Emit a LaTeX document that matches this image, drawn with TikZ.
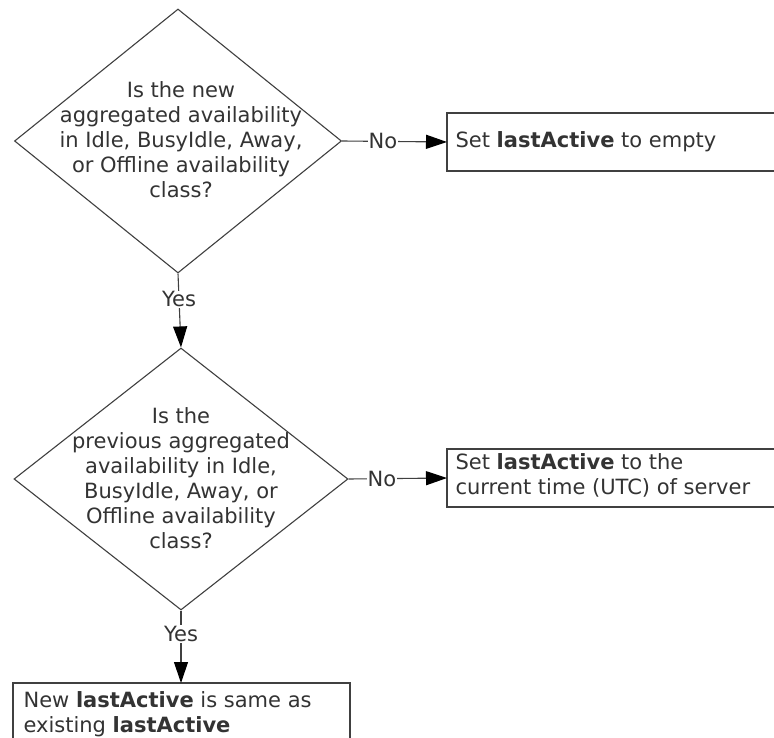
\documentclass[tikz,border=0pt]{standalone}
\usepackage{fontspec}
\setmainfont{DejaVu Sans}
\usetikzlibrary{shapes.geometric,arrows.meta}
\begin{document}
\begin{tikzpicture}[x=1pt,y=-1pt,
  line width=1.1pt,
  every node/.style={text=black!80},
  dia/.style={draw=black!75,shape=diamond,inner sep=0pt,minimum width=#1,minimum height=264pt},
  dtext/.style={align=center,font=\fontsize{21}{25}\selectfont},
  proc/.style={draw=black!75,inner sep=0pt},
  ptext/.style={anchor=north west,align=left,font=\fontsize{21}{24.5}\selectfont,inner sep=0pt},
  lbl/.style={fill=white,inner sep=1pt,font=\fontsize{21}{22}\selectfont},
  conn/.style={draw=black!75,-{Triangle[length=21pt,width=14pt,color=black]}}]
\clip (0,0) rectangle (774,738);
\fill[white] (0,0) rectangle (774,738);

% decision 1
\node[dia=327pt] (d1) at (178,141) {};
\node[dtext] (t1) at (181,140) {Is the new\\aggregated availability\\in Idle, BusyIdle, Away,\\or Offline availability\\class?};

% process 1
\draw[black!75] (447,113) rectangle (790,171);
\coordinate (p1) at (447,142);
\node[ptext,anchor=west] (pt1) at (455,142) {Set \textbf{lastActive} to empty};

% decision 2
\node[dia=334pt,minimum height=262pt] (d2) at (181,479) {};
\node[dtext] (t2) at (181,478) {Is the\\previous aggregated\\availability in Idle,\\BusyIdle, Away, or\\Offline availability\\class?};

% process 2
\draw[black!75] (447,449) rectangle (790,507);
\coordinate (p2) at (447,478);
\node[ptext] (pt2) at (455,453) {Set \textbf{lastActive} to the\\current time (UTC) of server};

% process 3
\draw[black!75] (13,683) rectangle (350,760);
\coordinate (p3) at (181,683);
\node[ptext] (pt3) at (23,691) {New \textbf{lastActive} is same as\\existing \textbf{lastActive}};

% connectors
\draw[conn] (d1.east) -- node[lbl,pos=0.39] {No} (p1);
\draw[conn] (d1.south) -- node[lbl,pos=0.35] {Yes} (d2.north);
\draw[conn] (d2.east) -- node[lbl,pos=0.34] {No} (p2);
\draw[conn] (d2.south) -- node[lbl,pos=0.32] {Yes} (p3);
\end{tikzpicture}
\end{document}
